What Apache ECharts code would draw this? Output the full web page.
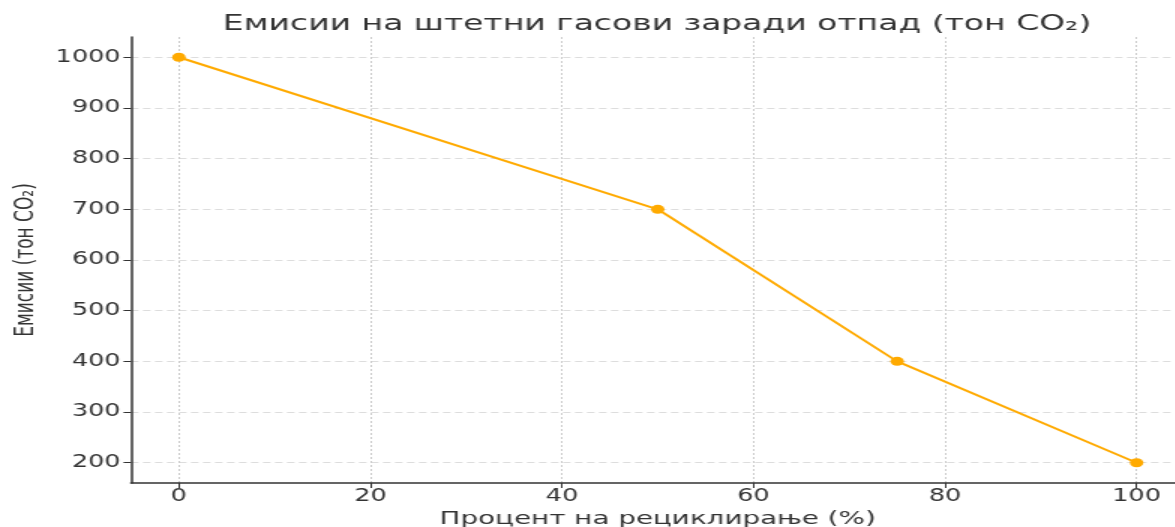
<!DOCTYPE html>
<html>
<head>
<meta charset="utf-8">
<script src="https://cdn.jsdelivr.net/npm/echarts@6/dist/echarts.min.js"></script>
<style>
  html, body { margin: 0; padding: 0; background: #fff; overflow: hidden; }
  #wrap { width: 1175px; height: 527px; overflow: hidden; }
  #chart { height: 527px; transform-origin: 0 0; }
</style>
</head>
<body>
<div id="wrap"><div id="chart"></div></div>
<script>
// податоци
const recyclingPct = [0, 50, 75, 100]
const emissions = [1000, 700, 400, 200]
const xTicks = [0, 20, 40, 60, 80, 100]
const yTicks = [200, 300, 400, 500, 600, 700, 800, 900, 1000]

// сликата е развлечена хоризонтално
const stretch = 1.5
const W = 1175 / stretch
const el = document.getElementById('chart')
el.style.width = W + 'px'
el.style.transform = 'scaleX(' + stretch + ')'

const font = 'DejaVu Sans'
const plotLeft = 131 / stretch
const plotRight = 1185 / stretch
const chart = echarts.init(el)

chart.setOption({
  animation: false,
  title: {
    text: 'Емисии на штетни гасови заради отпад (тон CO₂)',
    left: 657 / stretch - 5,
    textAlign: 'center',
    top: 8,
    textStyle: { fontFamily: font, fontSize: 22, fontWeight: 'normal', color: '#333' }
  },
  grid: {
    left: plotLeft,
    right: W - plotRight,
    top: 37,
    bottom: 44,
    outerBoundsMode: 'none',
    containLabel: false
  },
  xAxis: {
    type: 'value',
    min: -5,
    max: 105,
    name: 'Процент на рециклирање (%)',
    nameLocation: 'middle',
    nameGap: 24,
    nameTextStyle: { fontFamily: font, fontSize: 18.5, color: '#333' },
    axisLine: { onZero: false, lineStyle: { color: '#333', width: 1.5 } },
    axisTick: { customValues: xTicks, length: 5, lineStyle: { color: '#333' } },
    axisLabel: { customValues: xTicks, formatter: v => String(v), fontFamily: font, fontSize: 17, color: '#333', margin: 5 },
    splitLine: { show: true, lineStyle: { color: '#ccc', type: [2, 2], width: 1 } }
  },
  yAxis: {
    type: 'value',
    min: 160,
    max: 1040,
    name: 'Емисии (тон CO₂)',
    nameLocation: 'middle',
    nameGap: 60,
    nameTextStyle: { fontFamily: font, fontSize: 17, color: '#333' },
    axisLine: { show: true, onZero: false, lineStyle: { color: '#333', width: 1.5 } },
    axisTick: { show: true, customValues: yTicks, length: 5, lineStyle: { color: '#333' } },
    axisLabel: { customValues: yTicks, formatter: v => String(v), fontFamily: font, fontSize: 17, color: '#333', margin: 7 },
    splitLine: { show: true, lineStyle: { color: '#ddd', type: [5, 3], width: 1 } }
  },
  series: [{
    type: 'line',
    data: recyclingPct.map((x, i) => [x, emissions[i]]),
    symbol: 'circle',
    symbolSize: 9,
    itemStyle: { color: '#FFAA00' },
    lineStyle: { color: '#FFAA00', width: 2 }
  }]
})
</script>
</body>
</html>
